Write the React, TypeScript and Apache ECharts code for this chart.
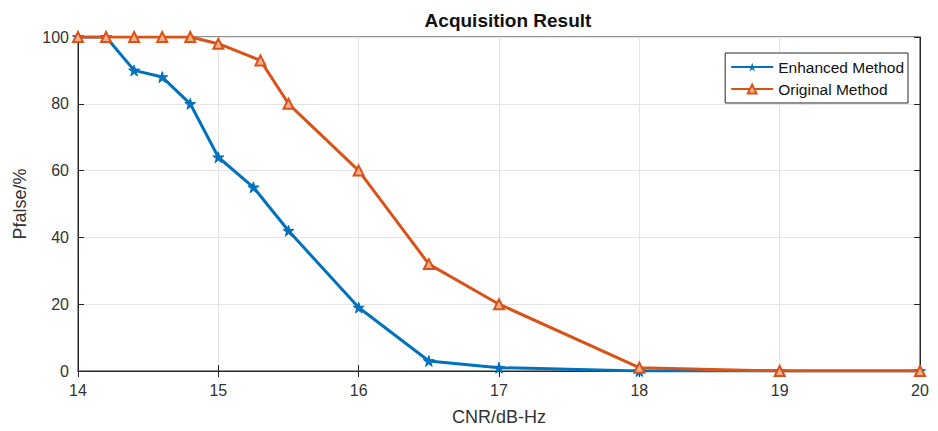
import React, { useEffect, useRef } from "react";
import * as echarts from "echarts";

const cnrEnhanced = [14, 14.2, 14.4, 14.6, 14.8, 15, 15.25, 15.5, 16, 16.5, 17, 18, 19, 20];
const pEnhanced = [100, 100, 90, 88, 80, 64, 55, 42, 19, 3, 1, 0, 0, 0];
const cnrOriginal = [14, 14.2, 14.4, 14.6, 14.8, 15, 15.3, 15.5, 16, 16.5, 17, 18, 19, 20];
const pOriginal = [100, 100, 100, 100, 100, 98, 93, 80, 60, 32, 20, 1, 0, 0];
const seriesNames = ["Enhanced Method", "Original Method"];

const BLUE = "#0072BD";
const ORANGE = "#D95319";
const STAR =
  "path://M50,0 L61,35 L98,35 L68,57 L79,92 L50,70 L21,92 L32,57 L2,35 L39,35 Z";

export default function App() {
  const ref = useRef<HTMLDivElement>(null);
  useEffect(() => {
    if (!ref.current) return;
    const chart = echarts.init(ref.current, undefined, { renderer: "svg" });
    const font = "'Liberation Sans', Arial, sans-serif";
    const axisText = { color: "#333333", fontSize: 16, fontFamily: font };
    chart.setOption({
      animation: false,
      backgroundColor: "#ffffff",
      title: {
        text: "Acquisition Result",
        left: 503,
        textAlign: "center",
        top: 6,
        textStyle: { fontSize: 19, fontWeight: "bold", color: "#111", fontFamily: font },
      },
      grid: {
        left: 78,
        right: 18,
        top: 37,
        bottom: 59,
        show: true,
        borderColor: "#262626",
        borderWidth: 1,
      },
      legend: {
        right: 30,
        top: 53,
        orient: "vertical",
        backgroundColor: "#fff",
        borderColor: "#262626",
        borderWidth: 1,
        padding: [6, 4, 6, 5],
        itemGap: 6,
        itemWidth: 42,
        itemHeight: 11,
        textStyle: { fontSize: 15.5, color: "#111", fontFamily: font },
        data: seriesNames,
      },
      xAxis: [
        {
          type: "value",
          min: 14,
          max: 20,
          interval: 1,
          name: "CNR/dB-Hz",
          nameLocation: "middle",
          nameGap: 37,
          nameTextStyle: { ...axisText, fontSize: 18 },
          axisLine: { show: true, lineStyle: { color: "#262626" } },
          axisTick: { show: true, inside: true, length: 6, lineStyle: { color: "#262626" } },
          axisLabel: { ...axisText, margin: 11 },
          splitLine: { show: true, lineStyle: { color: "#e3e3e3" } },
        },
        {
          type: "value",
          position: "top",
          min: 14,
          max: 20,
          interval: 1,
          axisLine: { show: true, lineStyle: { color: "#262626" } },
          axisTick: { show: true, inside: true, length: 6, lineStyle: { color: "#262626" } },
          axisLabel: { show: false },
          splitLine: { show: false },
        },
      ],
      yAxis: [
        {
          type: "value",
          min: 0,
          max: 100,
          interval: 20,
          name: "Pfalse/%",
          nameLocation: "middle",
          nameGap: 49,
          nameRotate: 90,
          nameTextStyle: { ...axisText, fontSize: 18 },
          axisLine: { show: true, lineStyle: { color: "#262626" } },
          axisTick: { show: true, inside: true, length: 6, lineStyle: { color: "#262626" } },
          axisLabel: { ...axisText, margin: 9 },
          splitLine: { show: true, lineStyle: { color: "#e3e3e3" } },
        },
        {
          type: "value",
          position: "right",
          min: 0,
          max: 100,
          interval: 20,
          axisLine: { show: true, lineStyle: { color: "#262626" } },
          axisTick: { show: true, inside: true, length: 6, lineStyle: { color: "#262626" } },
          axisLabel: { show: false },
          splitLine: { show: false },
        },
      ],
      series: [
        {
          name: seriesNames[0],
          type: "line",
          data: cnrEnhanced.map((x, i) => [x, pEnhanced[i]]),
          symbol: STAR,
          symbolSize: 11,
          lineStyle: { color: BLUE, width: 3 },
          itemStyle: { color: BLUE, borderColor: BLUE },
          z: 3,
        },
        {
          name: seriesNames[1],
          type: "line",
          data: cnrOriginal.map((x, i) => [x, pOriginal[i]]),
          symbol: "triangle",
          symbolSize: 10,
          lineStyle: { color: ORANGE, width: 3 },
          itemStyle: { color: "#f2b08f", borderColor: ORANGE, borderWidth: 2 },
          z: 4,
        },
      ],
    });
    return () => chart.dispose();
  }, []);
  return <div ref={ref} style={{ width: 938, height: 431, margin: -8 }} />;
}
